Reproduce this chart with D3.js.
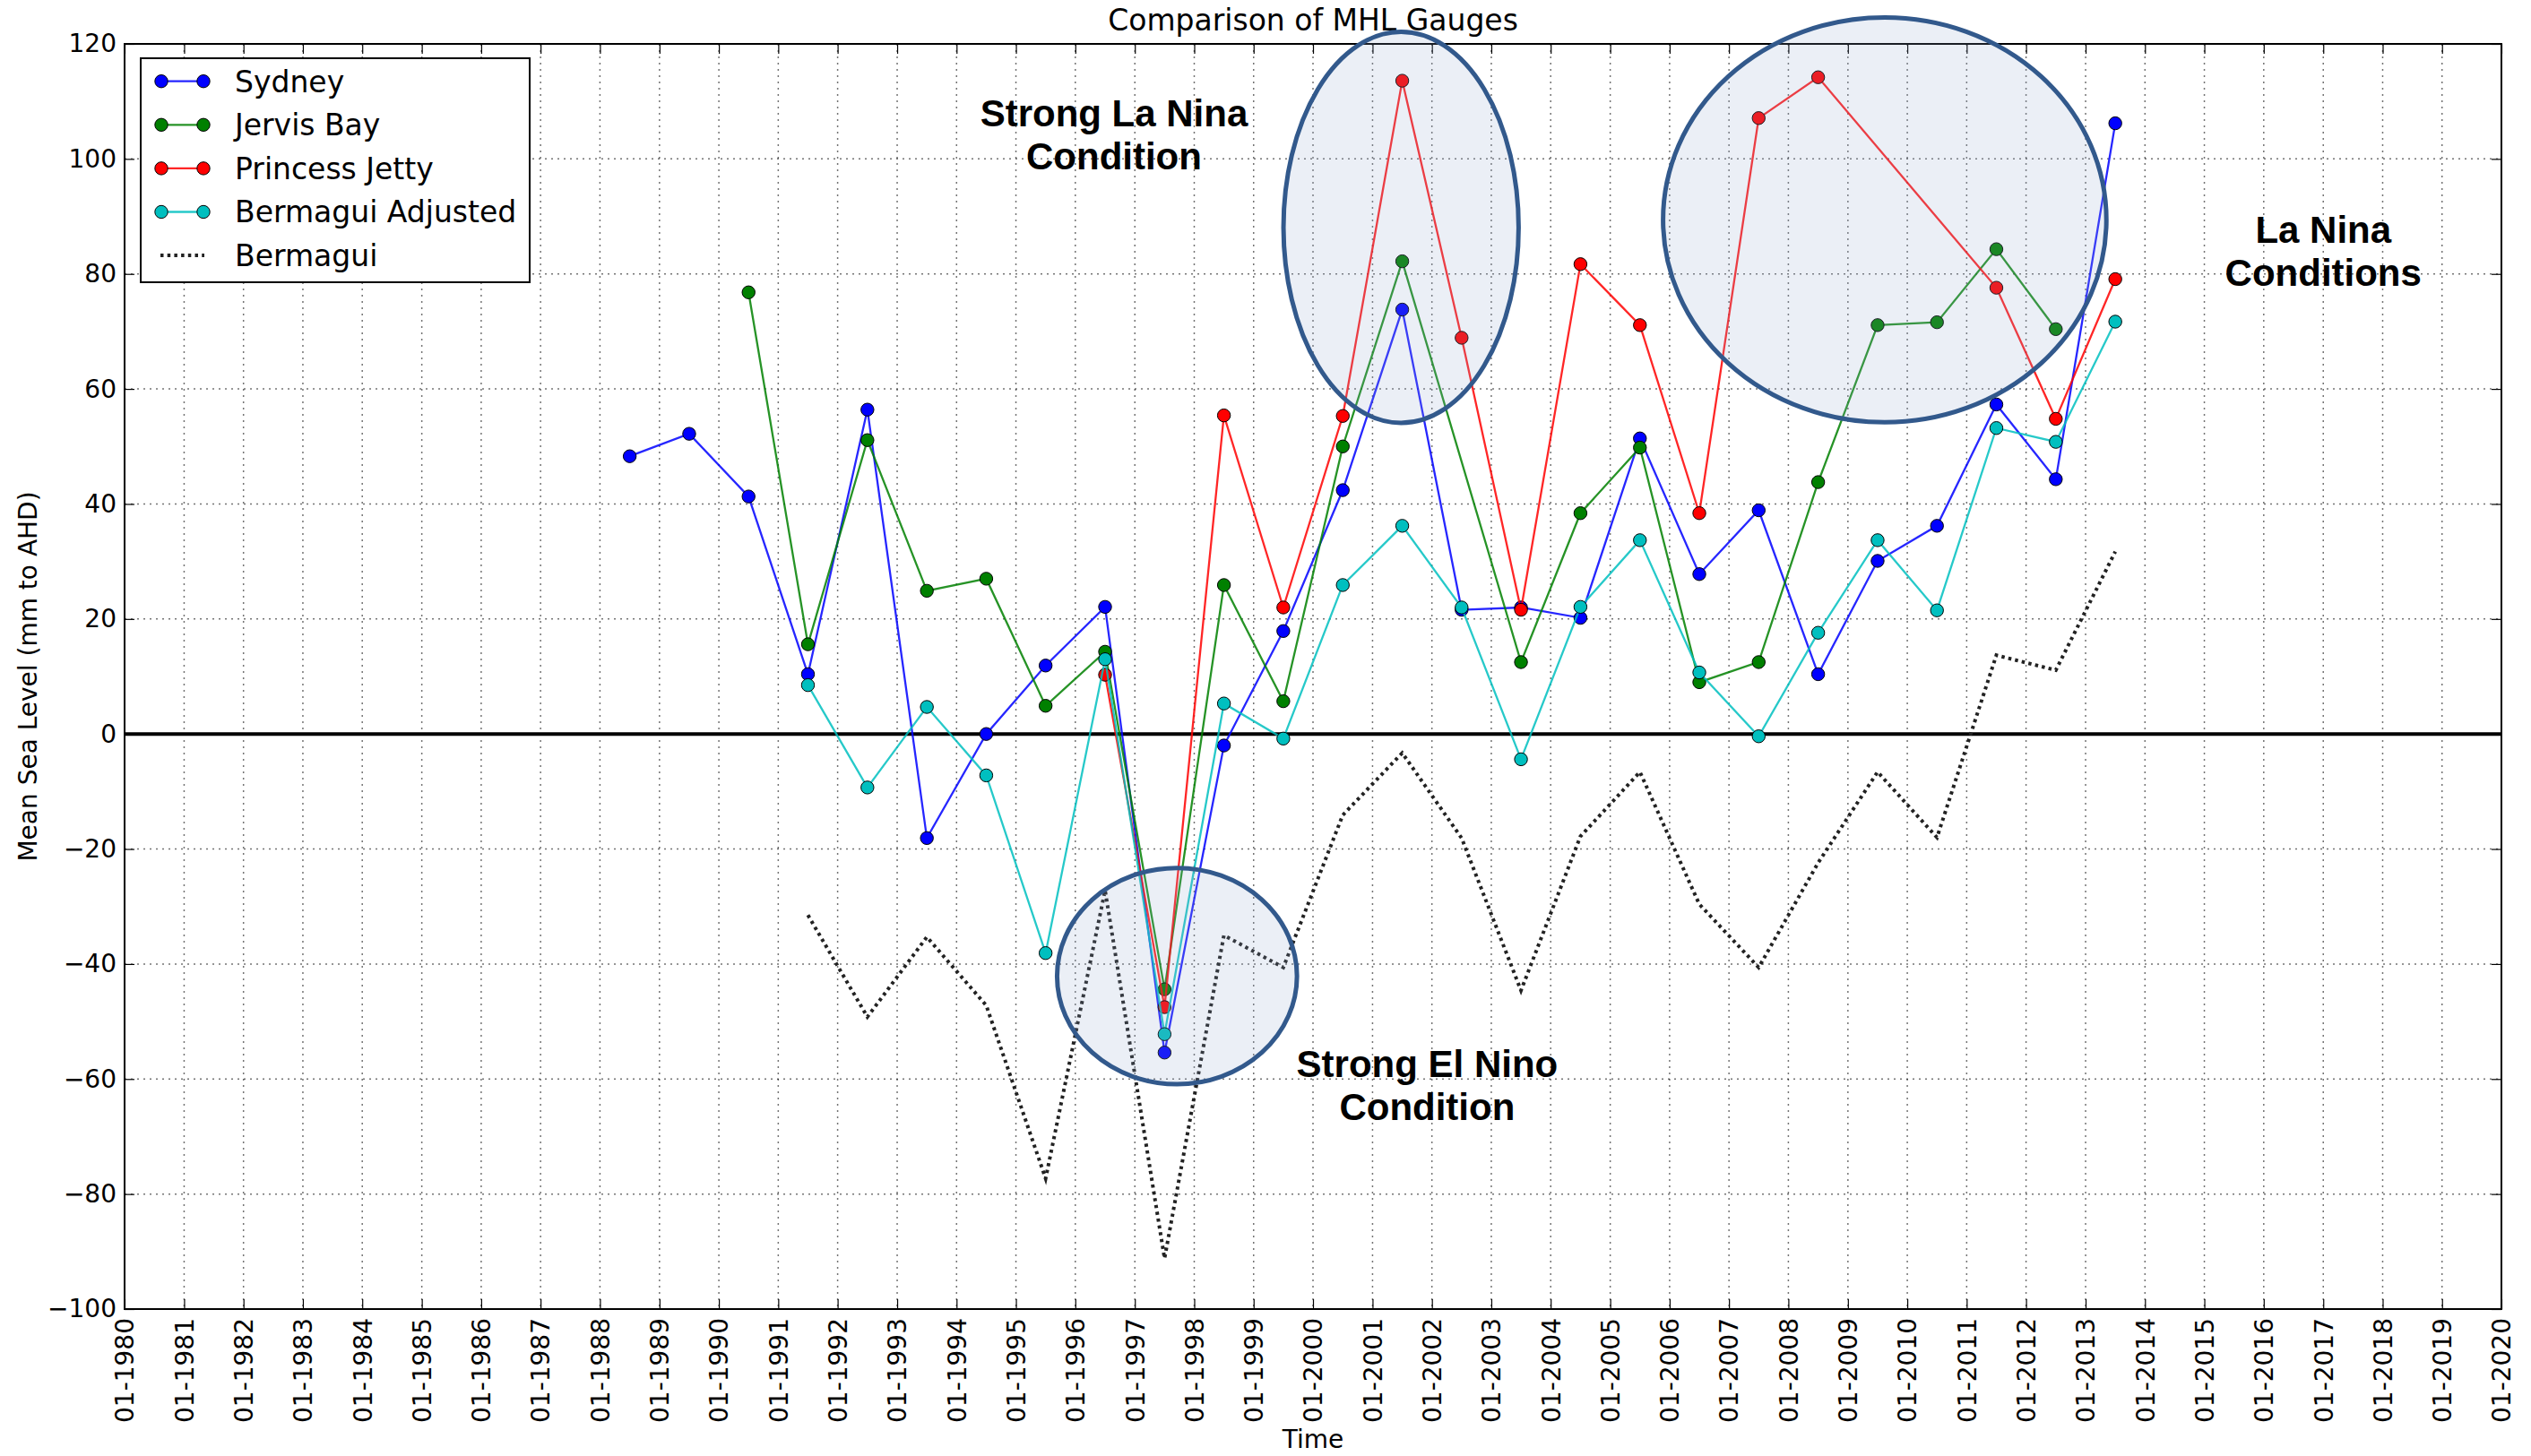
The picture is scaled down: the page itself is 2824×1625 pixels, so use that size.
<!DOCTYPE html>
<html lang="en">
<head>
<meta charset="utf-8">
<title>Comparison of MHL Gauges</title>
<style>
  body { margin: 0; background: #fff; }
  svg { display: block; font-family: "DejaVu Sans", sans-serif; }
</style>
</head>
<body>
<svg width="2824" height="1625"></svg>
<script src="https://d3js.org/d3.v7.min.js"></script>
<script>
// annual means, plotted at mid-year
const years = [1988, 1989, 1990, 1991, 1992, 1993, 1994, 1995, 1996, 1997, 1998, 1999, 2000,
               2001, 2002, 2003, 2004, 2005, 2006, 2007, 2008, 2009, 2010, 2011, 2012, 2013];
const sydney = [48.3, 52.2, 41.3, 10.4, 56.4, -18.1, 0.0, 11.9, 22.1, -55.4, -2.0, 17.9, 42.4,
                73.8, 21.6, 22.0, 20.2, 51.4, 27.8, 38.9, 10.4, 30.1, 36.2, 57.3, 44.3, 106.2];
const jervisBay = [null, null, 76.8, 15.6, 51.1, 24.9, 27.0, 4.9, 14.3, -44.4, 25.9, 5.7, 50.0,
                   82.2, null, 12.5, 38.4, 49.8, 9.0, 12.5, 43.8, 71.1, 71.6, 84.3, 70.4, null];
const princessJetty = [null, null, null, null, null, null, null, null, 10.3, -47.5, 55.4, 22.0, 55.3,
                       113.6, 68.9, 21.6, 81.7, 71.1, 38.4, 107.1, 114.2, null, null, 77.6, 54.8, 79.1];
const bermaguiAdj = [null, null, null, 8.5, -9.3, 4.7, -7.2, -38.1, 13.0, -52.2, 5.3, -0.8, 25.9,
                     36.2, 22.0, -4.4, 22.1, 33.7, 10.7, -0.4, 17.6, 33.7, 21.5, 53.2, 50.8, 71.7];
const bermagui = [null, null, null, -31.5, -49.2, -35.3, -47.2, -77.3, -27.2, -91.2, -35.0, -40.6, -14.1,
                  -3.3, -18.1, -44.6, -17.8, -6.6, -29.6, -40.6, -22.4, -6.6, -18.0, 13.7, 11.1, 31.7];

const yTicks = [-100, -80, -60, -40, -20, 0, 20, 40, 60, 80, 100, 120];

// highlighted periods: centre (decimal year, mm) and radii (years, mm)
const circleCx = [2001.48, 2009.62, 1997.71];
const circleCy = [88.1, 89.4, -42.1];
const circleRx = [1.98, 3.73, 2.02];
const circleRy = [34.0, 35.2, 18.8];

const noteLines = [["Strong La Nina", "Condition"], ["Strong El Nino", "Condition"], ["La Nina", "Conditions"]];
const noteX = [1996.65, 2001.92, 2017.0];
const noteY = [108.0, -57.3, 87.75];
const noteGap = 7.6; // mm between text lines

const series = [
  {name: "Sydney", values: sydney, color: "#0000ff"},
  {name: "Jervis Bay", values: jervisBay, color: "#008000"},
  {name: "Princess Jetty", values: princessJetty, color: "#ff0000"},
  {name: "Bermagui Adjusted", values: bermaguiAdj, color: "#00bfbf"}
];

const svg = d3.select("svg");
const plotLeft = 139, plotRight = 2791, plotTop = 49, plotBottom = 1461;

function yearDate(v) {
  const yr = Math.floor(v);
  const a = new Date(yr, 0, 1), b = new Date(yr + 1, 0, 1);
  return new Date(+a + (v - yr) * (b - a));
}

const x = d3.scaleTime()
  .domain([new Date(1980, 0, 1), new Date(2020, 0, 1)])
  .range([plotLeft, plotRight]);
const y = d3.scaleLinear().domain([-100, 120]).range([plotBottom, plotTop]);
const xTicks = x.ticks(d3.timeYear.every(1));

svg.append("rect").attr("width", 2824).attr("height", 1625).attr("fill", "#fff");

// grid
const grid = svg.append("g")
    .attr("stroke", "#000")
    .attr("stroke-opacity", 0.55)
    .attr("stroke-width", 1.5)
    .attr("stroke-dasharray", "2,5");
grid.selectAll(".gx").data(xTicks).join("line")
    .attr("x1", d => x(d)).attr("x2", d => x(d))
    .attr("y1", plotTop).attr("y2", plotBottom);
grid.selectAll(".gy").data(yTicks).join("line")
    .attr("x1", plotLeft).attr("x2", plotRight)
    .attr("y1", d => y(d)).attr("y2", d => y(d));

// axes, ticks pointing inward
const xAxis = svg.append("g")
    .attr("transform", `translate(0,${plotBottom})`)
    .call(d3.axisBottom(x).ticks(d3.timeYear.every(1)).tickFormat(d3.timeFormat("%m-%Y"))
      .tickSizeInner(-11).tickSizeOuter(0));
xAxis.selectAll("text")
    .attr("transform", "rotate(-90)")
    .attr("x", -10).attr("y", 0).attr("dy", "0.35em")
    .style("text-anchor", "end");

svg.append("g")
    .attr("transform", `translate(0,${plotTop})`)
    .call(d3.axisTop(x).ticks(d3.timeYear.every(1)).tickFormat("").tickSizeInner(-11).tickSizeOuter(0));

svg.append("g")
    .attr("transform", `translate(${plotLeft},0)`)
    .call(d3.axisLeft(y).tickValues(yTicks).tickSizeInner(-11).tickSizeOuter(0).tickPadding(9));

svg.append("g")
    .attr("transform", `translate(${plotRight},0)`)
    .call(d3.axisRight(y).tickValues(yTicks).tickFormat("").tickSizeInner(-11).tickSizeOuter(0));

svg.selectAll(".domain").remove();
svg.selectAll(".tick line").attr("stroke", "#000").attr("stroke-width", 1.2);
svg.selectAll(".tick text").attr("font-size", 28).attr("fill", "#000")
    .attr("font-family", "DejaVu Sans, sans-serif");

// zero line
svg.append("line")
    .attr("x1", plotLeft).attr("x2", plotRight)
    .attr("y1", y(0)).attr("y2", y(0))
    .attr("stroke", "#000").attr("stroke-width", 4);

function points(values) {
  return years.map((yr, i) => ({date: yearDate(yr + 0.5), v: values[i]}))
    .filter(d => d.v !== null);
}

const line = d3.line().x(d => x(d.date)).y(d => y(d.v));

series.forEach(s => {
  const pts = points(s.values);
  const g = svg.append("g");
  g.append("path")
      .datum(pts)
      .attr("d", line)
      .attr("fill", "none")
      .attr("stroke", s.color)
      .attr("stroke-opacity", 0.85)
      .attr("stroke-width", 2.3);
  g.selectAll("circle").data(pts).join("circle")
      .attr("cx", d => x(d.date)).attr("cy", d => y(d.v))
      .attr("r", 7.2)
      .attr("fill", s.color)
      .attr("stroke", "#000").attr("stroke-width", 1);
});

svg.append("path")
    .datum(points(bermagui))
    .attr("d", line)
    .attr("fill", "none")
    .attr("stroke", "#222")
    .attr("stroke-width", 4)
    .attr("stroke-dasharray", "3.5,4.2");

// frame
svg.append("rect")
    .attr("x", plotLeft).attr("y", plotTop)
    .attr("width", plotRight - plotLeft).attr("height", plotBottom - plotTop)
    .attr("fill", "none").attr("stroke", "#000").attr("stroke-width", 2);

// title and axis labels
svg.append("text")
    .attr("x", (plotLeft + plotRight) / 2).attr("y", 34)
    .attr("text-anchor", "middle").attr("font-size", 33)
    .text("Comparison of MHL Gauges");
svg.append("text")
    .attr("x", (plotLeft + plotRight) / 2).attr("y", 1616)
    .attr("text-anchor", "middle").attr("font-size", 28)
    .text("Time");
svg.append("text")
    .attr("transform", `translate(41,${(plotTop + plotBottom) / 2}) rotate(-90)`)
    .attr("text-anchor", "middle").attr("font-size", 28)
    .text("Mean Sea Level (mm to AHD)");

// legend
const legend = svg.append("g");
legend.append("rect")
    .attr("x", 157).attr("y", 65).attr("width", 434).attr("height", 250)
    .attr("fill", "#fff").attr("stroke", "#000").attr("stroke-width", 2);
const legendItems = series.concat([{name: "Bermagui", color: "#222", dotted: true}]);
legendItems.forEach((s, i) => {
  const ly = 90.7 + i * 48.6;
  const g = legend.append("g");
  if (s.dotted) {
    g.append("line").attr("x1", 179).attr("x2", 228).attr("y1", ly).attr("y2", ly)
        .attr("stroke", s.color).attr("stroke-width", 4).attr("stroke-dasharray", "3.5,4.2");
  } else {
    g.append("line").attr("x1", 180).attr("x2", 227).attr("y1", ly).attr("y2", ly)
        .attr("stroke", s.color).attr("stroke-opacity", 0.85).attr("stroke-width", 2.3);
    g.selectAll("circle").data([180, 227]).join("circle")
        .attr("cx", d => d).attr("cy", ly).attr("r", 7.2)
        .attr("fill", s.color).attr("stroke", "#000").attr("stroke-width", 1);
  }
  g.append("text").attr("x", 262).attr("y", ly).attr("dy", "0.36em")
      .attr("font-size", 33).text(s.name);
});

// highlight ellipses
circleCx.forEach((cx, i) => {
  const px = x(yearDate(cx));
  svg.append("ellipse")
      .attr("cx", px).attr("cy", y(circleCy[i]))
      .attr("rx", x(yearDate(cx + circleRx[i])) - px)
      .attr("ry", y(0) - y(circleRy[i]))
      .attr("fill", "#8fa9cf").attr("fill-opacity", 0.18)
      .attr("stroke", "#32598c").attr("stroke-width", 5);
});

// notes
noteLines.forEach((lines, i) => {
  const t = svg.append("text")
      .attr("text-anchor", "middle")
      .attr("font-family", "Liberation Sans, Arial, sans-serif")
      .attr("font-weight", "bold").attr("font-size", 42);
  lines.forEach((s, j) => {
    t.append("tspan")
        .attr("x", x(yearDate(noteX[i])))
        .attr("y", y(noteY[i] - j * noteGap))
        .attr("dy", "0.35em")
        .text(s);
  });
});
</script>
</body>
</html>
